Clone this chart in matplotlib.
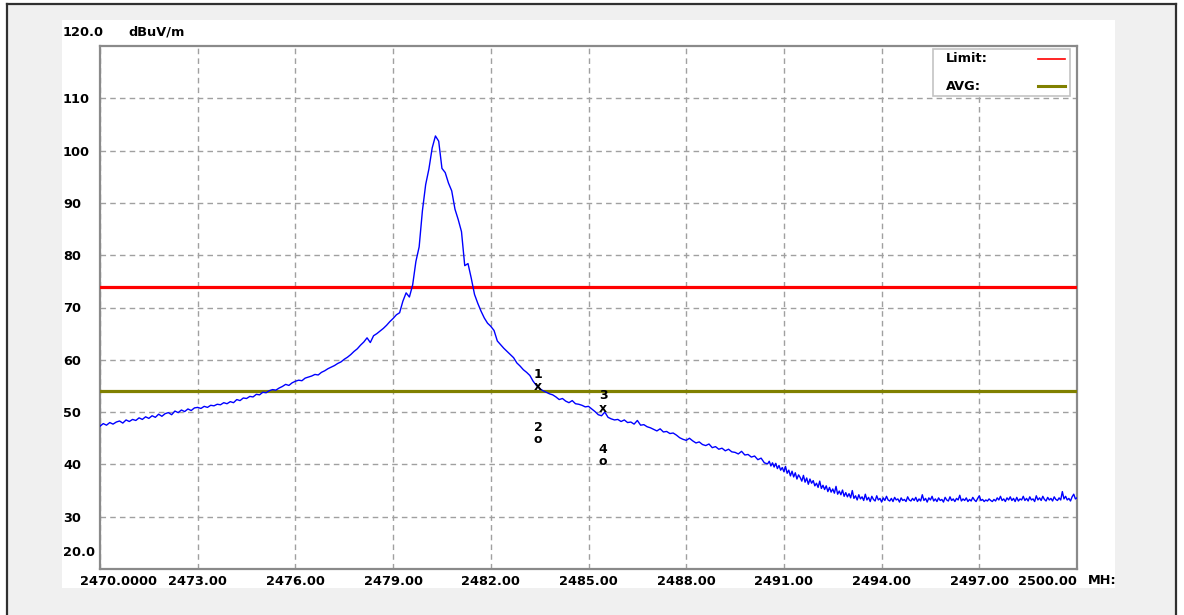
import numpy as np
import matplotlib
matplotlib.use("Agg")
import matplotlib.pyplot as plt
from matplotlib.patches import Rectangle
from matplotlib.lines import Line2D
from matplotlib.transforms import blended_transform_factory, ScaledTranslation

# ---------------- data ----------------
# sweep part 1: 2470.0 .. 2490.4 MHz, 0.1 MHz steps
level_part1 = [
    47.3, 47.8, 47.5, 48.0, 47.7, 48.1, 48.3, 47.9, 48.5, 48.2,
    48.6, 48.4, 48.9, 48.6, 49.1, 48.8, 49.3, 49.0, 49.6, 49.2,
    49.7, 49.9, 49.5, 50.2, 49.9, 50.4, 50.1, 50.6, 50.3, 50.8,
    50.9, 50.7, 51.1, 50.9, 51.3, 51.2, 51.5, 51.4, 51.8, 51.6,
    52.0, 51.8, 52.4, 52.2, 52.7, 52.6, 53.0, 52.9, 53.4, 53.3,
    53.8, 53.7, 54.1, 54.3, 54.2, 54.6, 54.9, 55.3, 55.1, 55.6,
    55.9, 56.1, 56.0, 56.5, 56.7, 56.9, 57.2, 57.1, 57.6, 57.9,
    58.3, 58.6, 58.9, 59.3, 59.6, 60.1, 60.5, 61.0, 61.6, 62.1,
    62.8, 63.4, 64.2, 63.3, 64.6, 65.0, 65.5, 66.0, 66.6, 67.3,
    67.9, 68.6, 69.0, 71.2, 72.8, 72.0, 74.3, 78.8, 81.6, 88.5,
    93.5, 96.5, 100.5, 102.8, 101.8, 96.6, 95.8, 93.8, 92.3, 88.8,
    86.8, 84.5, 78.0, 78.4, 75.6, 72.5, 70.8, 69.3, 68.0, 67.0,
    66.4, 65.6, 63.6, 62.9, 62.2, 61.6, 61.0, 60.4, 59.4, 58.8,
    58.1, 57.6, 57.0, 55.9, 55.1, 54.5, 54.1, 53.8, 53.5, 53.3,
    52.9, 52.4, 52.6, 52.1, 51.8, 52.2, 51.6, 51.5, 51.3, 51.0,
    51.1, 50.6, 50.1, 49.5, 49.3, 50.0, 49.0, 48.7, 48.5, 48.6,
    48.2, 48.5, 48.0, 48.1, 47.7, 48.4, 47.5, 47.6, 47.2, 47.0,
    46.7, 46.4, 46.8, 46.2, 46.3, 45.9, 46.0, 45.6, 45.1, 44.8,
    44.6, 45.0, 44.5, 44.1, 44.3, 43.8, 43.6, 43.9, 43.2, 43.4,
    42.9, 43.1, 42.6, 42.9, 42.4, 42.3, 42.0, 42.5, 41.8, 41.9,
    41.4, 41.6, 40.9, 41.2, 40.3,
]
# sweep part 2: 2490.5 .. 2500.0 MHz, 0.05 MHz steps
level_part2 = [
    40.1, 40.6, 39.7, 40.3, 39.5, 40.2, 39.2, 39.8, 38.9, 39.4,
    38.6, 39.6, 38.3, 38.9, 37.8, 38.7, 37.6, 38.4, 37.2, 38.0,
    37.5, 36.8, 37.9, 36.6, 37.4, 36.2, 37.2, 36.4, 36.9, 35.9,
    36.4, 35.6, 36.8, 35.4, 36.0, 35.2, 35.9, 34.8, 35.6, 34.7,
    35.3, 34.5, 35.8, 34.3, 34.9, 34.2, 35.1, 33.9, 34.6, 33.8,
    34.4, 33.6, 35.0, 33.5, 34.0, 33.2, 34.2, 33.4, 33.8, 33.1,
    34.3, 33.2, 33.7, 32.9, 33.9, 33.3, 33.0, 34.0, 33.2, 33.5,
    32.8, 33.6, 33.1, 33.9, 33.2, 33.0, 33.5, 32.9, 33.7, 33.2,
    33.4, 32.8, 33.6, 33.1, 33.3, 32.9, 33.8, 33.2, 33.0, 33.5,
    33.1, 33.7, 32.9, 33.4, 33.0, 34.2, 33.1, 33.5, 32.8, 33.6,
    33.2, 33.9, 33.0, 33.4, 32.9, 33.6, 33.1, 33.3, 32.8, 33.7,
    33.2, 33.0, 33.8, 33.1, 33.4, 32.9, 33.5, 33.2, 34.1, 33.0,
    33.4, 33.1, 33.6, 32.9, 33.3, 33.0, 33.7, 33.2, 32.9, 33.5,
    34.0, 33.1, 33.3, 32.9, 33.2, 33.0, 33.4, 33.1, 32.9, 33.3,
    33.0, 33.6, 33.2, 33.9, 33.1, 33.4, 32.9, 33.6, 33.2, 33.8,
    33.1, 33.5, 32.9, 33.7, 33.0, 33.4, 33.2, 33.9, 33.1, 33.5,
    33.0, 33.8, 33.2, 33.4, 32.9, 34.0, 33.2, 33.6, 33.1, 33.9,
    33.3, 33.0, 33.7, 33.2, 33.5, 33.0, 33.8, 33.3, 33.1, 33.6,
    33.2, 34.8, 33.4, 33.9, 33.2, 33.5, 33.0, 33.8, 34.3, 33.4,
    33.6,
]
freq_part1 = np.linspace(2470.0, 2490.4, len(level_part1))
freq_part2 = np.linspace(2490.5, 2500.0, len(level_part2))
freq_mhz = np.concatenate([freq_part1, freq_part2])
level_dbuv = np.concatenate([level_part1, level_part2])

limit_level = 74.0
avg_level = 54.0

marker_ids = ["1", "2", "3", "4"]
marker_freq = [2483.45, 2483.45, 2485.45, 2485.45]
marker_level = [54.8, 44.7, 50.7, 40.5]
marker_sym = ["x", "o", "x", "o"]

x_ticks = [2470, 2473, 2476, 2479, 2482, 2485, 2488, 2491, 2494, 2497, 2500]
x_tick_labels = ["2470.0000", "2473.00", "2476.00", "2479.00", "2482.00", "2485.00",
                 "2488.00", "2491.00", "2494.00", "2497.00", "2500.00"]
y_ticks = [30, 40, 50, 60, 70, 80, 90, 100, 110]
y_tick_labels = ["30", "40", "50", "60", "70", "80", "90", "100", "110"]
y_min, y_max = 20.0, 120.0
y_min_label, y_max_label = "20.0", "120.0"
unit_label = "dBuV/m"
freq_unit_label = "MH:"
legend_names = ["Limit:", "AVG:"]

# ---------------- figure ----------------
W, H = 1184, 615
fig = plt.figure(figsize=(W / 100, H / 100), dpi=100, facecolor="white")

def fx(px):
    return px / W

def fy(py):
    return 1 - py / H

# outer gray panel with dark frame
fig.patches.append(Rectangle((fx(7), 0), fx(1176) - fx(7), fy(4), transform=fig.transFigure,
                             facecolor="#f0f0f0", edgecolor="none", zorder=-3))
for xs, ys in [([fx(7), fx(7)], [0, fy(4)]), ([fx(7), fx(1176)], [fy(4), fy(4)]),
               ([fx(1176), fx(1176)], [fy(4), 0])]:
    fig.lines.append(Line2D(xs, ys, transform=fig.transFigure, color="#303030", lw=1.6, zorder=-1))
# white plot panel
fig.patches.append(Rectangle((fx(62), fy(588)), fx(1115) - fx(62), fy(20) - fy(588),
                             transform=fig.transFigure, facecolor="white", edgecolor="none", zorder=-2))

ax = fig.add_axes([fx(100), fy(569), fx(1077) - fx(100), fy(46) - fy(569)])
ax.set_zorder(1)
ax.set_facecolor("white")
ax.set_xlim(2470.0, 2500.0)
ax.set_ylim(y_min, y_max)

fs = 9.3
fw = "bold"

ax.set_xticks(x_ticks)
ax.set_xticklabels(x_tick_labels, fontsize=fs, fontweight=fw)
ax.set_yticks(y_ticks)
ax.set_yticklabels(y_tick_labels, fontsize=fs, fontweight=fw, ha="left")
ax.tick_params(axis="both", length=0)
ax.tick_params(axis="x", pad=4)
ax.tick_params(axis="y", pad=37 * 0.72)

xl = ax.get_xticklabels()
xl[0].set_transform(xl[0].get_transform() + ScaledTranslation(0.185, 0, fig.dpi_scale_trans))
xl[-1].set_transform(xl[-1].get_transform() + ScaledTranslation(-0.30, 0, fig.dpi_scale_trans))

ax.grid(True, color="#a0a0a0", linestyle=(0, (4, 3)), linewidth=1.0)
ax.set_axisbelow(True)

for s in ax.spines.values():
    s.set_color("#8a8a8a")
    s.set_linewidth(1.6)

# limit lines
ax.axhline(limit_level, color="#ff0000", lw=2.3, zorder=3)
ax.axhline(avg_level, color="#808000", lw=2.3, zorder=3)

# trace
ax.plot(freq_mhz, level_dbuv, color="#0000ff", lw=1.0, zorder=4)

# markers
for mid, mf, ml, ms in zip(marker_ids, marker_freq, marker_level, marker_sym):
    ax.text(mf, ml, ms, ha="center", va="center", fontsize=9, fontweight="bold",
            color="black", zorder=6)
    ax.annotate(mid, (mf, ml), xytext=(0, 9), textcoords="offset points", ha="center",
                va="center", fontsize=9, fontweight="bold", color="black", zorder=6)

# y-axis end labels and unit
tr_left = blended_transform_factory(fig.transFigure, ax.transAxes)
ax.text(fx(63), 1.0, y_max_label, transform=tr_left + ScaledTranslation(0, 0.14, fig.dpi_scale_trans),
        ha="left", va="center", fontsize=fs, fontweight=fw, clip_on=False)
ax.text(fx(128), 1.0, unit_label, transform=tr_left + ScaledTranslation(0, 0.14, fig.dpi_scale_trans),
        ha="left", va="center", fontsize=fs, fontweight=fw, clip_on=False)
ax.text(fx(63), 0.0, y_min_label, transform=tr_left + ScaledTranslation(0, 0.16, fig.dpi_scale_trans),
        ha="left", va="center", fontsize=fs, fontweight=fw, clip_on=False)
ax.text(fx(1088), 0.0, freq_unit_label, transform=tr_left + ScaledTranslation(0, -0.11, fig.dpi_scale_trans),
        ha="left", va="center", fontsize=fs, fontweight=fw, clip_on=False)

# legend box
def axx(px):
    return (px - 100) / 977.0

def axy(py):
    return (569 - py) / 523.0

ax.add_patch(Rectangle((axx(933), axy(96)), axx(1070) - axx(933), axy(49) - axy(96),
                       transform=ax.transAxes, facecolor="white", edgecolor="#c4c4c4",
                       lw=1.2, zorder=7))
legend_colors = ["#ff0000", "#808000"]
legend_lw = [1.2, 2.2]
for i, (name, col, lw) in enumerate(zip(legend_names, legend_colors, legend_lw)):
    yy = axy(59 + 27 * i)
    ax.text(axx(946), yy, name, transform=ax.transAxes, ha="left", va="center",
            fontsize=fs, fontweight=fw, zorder=8)
    ax.add_line(Line2D([axx(1038), axx(1065)], [yy, yy], transform=ax.transAxes,
                       color=col, lw=lw, zorder=8))

fig.savefig("out.png", dpi=100, facecolor=fig.get_facecolor())
